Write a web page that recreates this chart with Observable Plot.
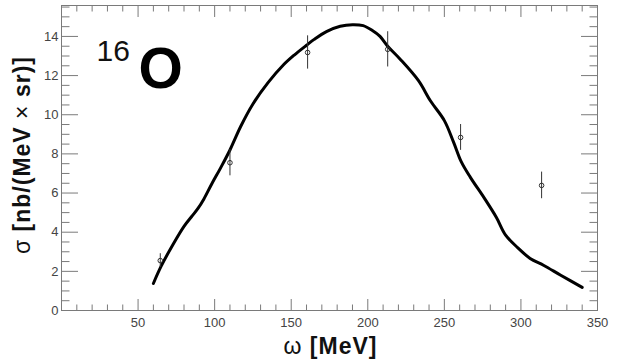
<!DOCTYPE html>
<html><head><meta charset="utf-8">
<script src="https://cdn.jsdelivr.net/npm/d3@7"></script>
<script src="https://cdn.jsdelivr.net/npm/@observablehq/plot@0.6"></script>
<style>body{margin:0;background:#fff;} svg{display:block;}</style>
</head><body><div id="chart"></div>
<script>
// Theory curve
const curveOmega = [60,65,73,80,85,89,93,98,104,110,117,125,135,145,152,160,165,173,182,190,197,203,208,213,221,233,241,250,256,261,267,276,284,290,298,306,315,326,340];
const curveSigma = [1.38,2.25,3.4,4.3,4.8,5.2,5.7,6.45,7.3,8.2,9.4,10.55,11.65,12.55,13.05,13.55,13.85,14.25,14.52,14.6,14.55,14.3,14.0,13.5,12.85,11.75,10.7,9.7,8.6,7.6,6.8,5.75,4.75,3.85,3.2,2.66,2.3,1.8,1.18];
// Data points
const pointOmega = [64.5,110,160.7,213,260.6,313.5];
const pointSigma = [2.55,7.55,13.18,13.34,8.84,6.39];
const pointError = [0.35,0.67,0.85,0.9,0.66,0.68];
// Axes
const xMajorTicks = [0,50,100,150,200,250,300,350];
const xTickLabels = [50,100,150,200,250,300,350];
const yMajorTicks = [0,2,4,6,8,10,12,14];
const yTickLabels = [0,2,4,6,8,10,12,14];
const xDomain = [0,350];
const yDomain = [0,15.58];
const xTitle = "ω [MeV]";
const yTitle = "σ [nb/(MeV × sr)]";
const nucleusMass = "16";
const nucleusSymbol = "O";

const curve = curveOmega.map((x,i)=>({x, y: curveSigma[i]}));
const points = pointOmega.map((x,i)=>({x, y: pointSigma[i], e: pointError[i]}));
const xMinor = d3.range(10, 350, 10).filter(v => v % 50 !== 0);
const yMinor = d3.range(0.5, yDomain[1], 0.5).filter(v => v % 2 !== 0);

const tickColor = "#7a7a7a";
const font = "'Liberation Sans', Arial, sans-serif";

const chart = Plot.plot({
  width: 617, height: 362,
  marginLeft: 61, marginRight: 20, marginTop: 5, marginBottom: 52,
  style: {fontFamily: font, background: "white", overflow: "visible"},
  x: {domain: xDomain},
  y: {domain: yDomain},
  marks: [
    Plot.frame({stroke: tickColor}),
    // bottom & top ticks (inward)
    Plot.axisX(xMajorTicks, {anchor: "bottom", tickSize: -11, fill: "none", stroke: tickColor, label: null}),
    Plot.axisX(xMinor, {anchor: "bottom", tickSize: -5.5, fill: "none", stroke: tickColor, label: null}),
    Plot.axisX(xMajorTicks, {anchor: "top", tickSize: -11, fill: "none", stroke: tickColor, label: null}),
    Plot.axisX(xMinor, {anchor: "top", tickSize: -5.5, fill: "none", stroke: tickColor, label: null}),
    // left & right ticks (inward)
    Plot.axisY(yMajorTicks, {anchor: "left", tickSize: -17, fill: "none", stroke: tickColor, label: null}),
    Plot.axisY(yMinor, {anchor: "left", tickSize: -8.5, fill: "none", stroke: tickColor, label: null}),
    Plot.axisY(yMajorTicks, {anchor: "right", tickSize: -17, fill: "none", stroke: tickColor, label: null}),
    Plot.axisY(yMinor, {anchor: "right", tickSize: -8.5, fill: "none", stroke: tickColor, label: null}),
    // tick labels
    Plot.axisX(xTickLabels, {anchor: "bottom", tickSize: 0, tickPadding: 7, fontSize: 13, fill: "#444", label: null}),
    Plot.axisY(yTickLabels, {anchor: "left", tickSize: 0, tickPadding: 3, fontSize: 13, fill: "#444", label: null}),
    // titles
    Plot.text([xTitle], {text: d => d, frameAnchor: "bottom", textAnchor: "middle", lineAnchor: "bottom", dy: 43.5, dx: 1, fontSize: 23, fontWeight: "bold", fill: "#111"}),
    Plot.text([yTitle], {text: d => d, frameAnchor: "left", textAnchor: "middle", rotate: -90, dx: -39, dy: -3, fontSize: 23, fontWeight: "bold", fill: "#111"}),
    Plot.text([nucleusMass], {text: d => d, frameAnchor: "top-left", textAnchor: "start", lineAnchor: "bottom", dx: 35, dy: 55, fontSize: 30, fill: "#111"}),
    Plot.text([nucleusSymbol], {text: d => d, frameAnchor: "top-left", textAnchor: "start", lineAnchor: "bottom", dx: 77, dy: 82.5, fontSize: 57, fontWeight: "bold", fill: "#000"}),
    // data
    Plot.line(curve, {x: "x", y: "y", stroke: "#000", strokeWidth: 3, curve: "catmull-rom"}),
    Plot.ruleX(points, {x: "x", y1: d => d.y - d.e, y2: d => d.y + d.e, stroke: "#333", strokeWidth: 1}),
    Plot.dot(points, {x: "x", y: "y", r: 2.3, stroke: "#333", strokeWidth: 1, fill: "none"})
  ]
});

// Render ω, σ and × in a lighter symbol weight like the original
d3.select(chart).selectAll("text").each(function() {
  const t = this.textContent;
  if (t === xTitle || t === yTitle) {
    const sel = d3.select(this);
    sel.text(null);
    sel.attr("letter-spacing", "1px");
    for (const ch of Array.from(t)) {
      const span = sel.append("tspan").text(ch);
      if (ch === "ω" || ch === "σ" || ch === "×") span.attr("font-weight", "normal");
    }
  }
});

document.getElementById("chart").append(chart);
</script>
</body></html>
